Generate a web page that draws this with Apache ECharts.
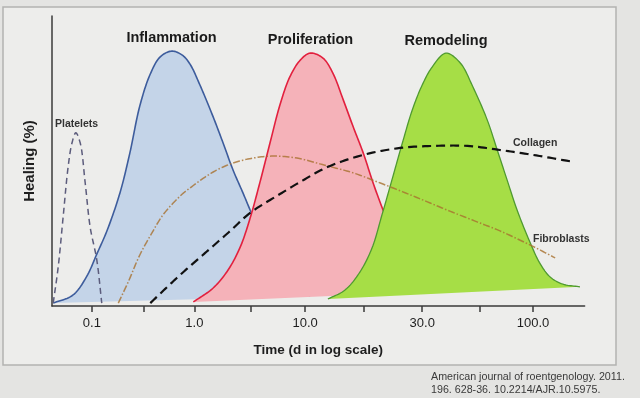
<!DOCTYPE html>
<html><head><meta charset="utf-8">
<script src="https://cdn.jsdelivr.net/npm/echarts@6/dist/echarts.min.js"></script>
<style>html,body{margin:0;padding:0;background:#e4e4e2;}#c{width:640px;height:398px;}</style>
</head><body><div id="c"></div>
<script>
// Illustrative time axis: x in "tick units" (tick 0 = 0.1 d); the axis is not a true log scale
const tickPositions = [0, 0.939, 1.859, 2.882, 3.867, 4.929, 5.990, 7.040, 8.0];
const tickLabelPositions = [0, 1.859, 3.867, 5.990, 8.0];
const tickLabels = ['0.1', '1.0', '10.0', '30.0', '100.0'];

const phaseNames = ['Inflammation', 'Proliferation', 'Remodeling'];
const curveNames = ['Platelets', 'Fibroblasts', 'Collagen'];

const inflammationX = [-0.70,-0.34,-0.09,0.09,0.28,0.51,0.69,0.87,1.06,1.24,1.45,1.64,1.78,1.96,2.20,2.38,2.56,2.74,2.87,3.14,3.41,3.69,3.96];
const inflammationY = [1.0,3.8,10.3,17.9,26.2,39.0,52.8,69.0,80.0,85.9,87.9,86.5,83.4,76.2,65.2,56.2,46.9,39.0,33.1,21.0,11.7,6.2,3.4];

const proliferationX = [1.84,2.20,2.47,2.69,2.87,3.05,3.23,3.41,3.59,3.78,3.96,4.19,4.37,4.56,4.74,4.92,5.10,5.28,5.50,5.77,6.04,6.41];
const proliferationY = [1.4,6.2,12.4,20.3,30.3,42.8,56.2,69.3,79.0,84.8,87.2,85.5,80.3,71.0,61.7,52.8,42.4,33.1,22.8,13.1,7.9,5.2];

const remodelingX = [4.28,4.59,4.86,5.08,5.26,5.44,5.63,5.81,5.99,6.17,6.42,6.68,6.91,7.17,7.35,7.53,7.71,7.95,8.13,8.31,8.53,8.85];
const remodelingY = [2.4,5.5,11.7,20.0,31.4,43.4,56.2,67.6,76.2,82.4,87.2,83.8,75.5,64.1,53.8,43.4,33.1,21.7,14.5,10.0,7.6,6.6];

const plateletsX = [-0.70,-0.61,-0.52,-0.43,-0.36,-0.29,-0.21,-0.12,-0.03,0.09,0.18];
const plateletsY = [1.0,13.4,30.7,47.9,56.2,59.7,56.2,42.4,27.2,15.9,1.0];

const fibroblastsX = [0.48,0.66,0.87,1.09,1.29,1.60,1.78,2.20,2.56,2.92,3.29,3.72,4.27,4.74,5.23,5.83,6.44,7.04,7.40,7.95,8.40];
const fibroblastsY = [1.0,8.3,17.6,25.2,31.4,37.9,40.7,46.2,49.3,51.0,51.7,51.0,48.3,45.9,42.4,37.9,33.1,28.6,25.9,21.0,16.6];

const collagenX = [1.06,1.33,1.60,1.91,2.20,2.51,2.87,3.41,3.78,4.27,4.92,5.59,6.19,6.81,7.40,8.00,8.73];
const collagenY = [1.0,5.9,10.7,15.9,20.7,25.9,32.1,38.6,42.8,47.9,52.1,54.5,55.2,55.2,53.8,52.1,49.7];

const FONT = "'Liberation Sans', Arial, sans-serif";

// centripetal Catmull-Rom through screen points (rendering only)
function spline(pts, seg) {
  const n = pts.length;
  const out = [];
  const d = (a, b) => Math.max(Math.sqrt(Math.hypot(b[0] - a[0], b[1] - a[1])), 1e-4);
  const lerp = (a, b, ta, tb, t) => [
    ((tb - t) * a[0] + (t - ta) * b[0]) / (tb - ta),
    ((tb - t) * a[1] + (t - ta) * b[1]) / (tb - ta)
  ];
  for (let i = 0; i < n - 1; i++) {
    const p1 = pts[i], p2 = pts[i + 1];
    const p0 = i > 0 ? pts[i - 1] : [2 * p1[0] - p2[0], 2 * p1[1] - p2[1]];
    const p3 = i + 2 < n ? pts[i + 2] : [2 * p2[0] - p1[0], 2 * p2[1] - p1[1]];
    const t0 = 0, t1 = t0 + d(p0, p1), t2 = t1 + d(p1, p2), t3 = t2 + d(p2, p3);
    for (let s = 0; s < seg; s++) {
      const t = t1 + (t2 - t1) * s / seg;
      const A1 = lerp(p0, p1, t0, t1, t), A2 = lerp(p1, p2, t1, t2, t), A3 = lerp(p2, p3, t2, t3, t);
      const B1 = lerp(A1, A2, t0, t2, t), B2 = lerp(A2, A3, t1, t3, t);
      out.push(lerp(B1, B2, t1, t2, t));
    }
  }
  out.push(pts[n - 1]);
  return out;
}

function curveSeries(name, xs, ys, opts) {
  return {
    type: 'custom', name: name, coordinateSystem: 'cartesian2d',
    data: xs.map((x, i) => [x, ys[i]]),
    silent: true,
    renderItem: function (params, api) {
      if (params.dataIndex !== 0) return null;
      const pts = xs.map((x, i) => api.coord([x, ys[i]]));
      const c = spline(pts, 12);
      const children = [];
      if (opts.fill) {
        children.push({ type: 'polygon', shape: { points: c }, style: { fill: opts.fill, stroke: null } });
      }
      children.push({ type: 'polyline', shape: { points: c },
        style: { fill: null, stroke: opts.stroke, lineWidth: opts.width, lineDash: opts.dash || null, opacity: opts.opacity || 1 } });
      return { type: 'group', children: children };
    }
  };
}

const chart = echarts.init(document.getElementById('c'), null, { renderer: 'canvas' });
const option = {
  animation: false,
  backgroundColor: 'transparent',
  grid: { left: 52, right: 55.4, top: 16, bottom: 92 },
  xAxis: {
    type: 'value', min: -0.722, max: 8.934,
    axisLine: { onZero: false, lineStyle: { color: '#3a3a3a', width: 1.5 } },
    axisTick: { customValues: tickPositions, length: 6, lineStyle: { color: '#3a3a3a', width: 1.5 } },
    axisLabel: {
      customValues: tickLabelPositions,
      formatter: function (v) {
        const i = tickLabelPositions.findIndex(p => Math.abs(p - v) < 1e-6);
        return i >= 0 ? tickLabels[i] : '';
      },
      color: '#1e1e1e', fontSize: 13, margin: 11, fontFamily: FONT
    },
    splitLine: { show: false },
    name: 'Time (d in log scale)', nameLocation: 'middle', nameGap: 37,
    nameTextStyle: { color: '#1e1e1e', fontSize: 13.5, fontWeight: 'bold', fontFamily: FONT }
  },
  yAxis: {
    type: 'value', min: 0, max: 100,
    axisLine: { show: true, onZero: false, lineStyle: { color: '#3a3a3a', width: 1.5 } },
    axisTick: { show: false }, axisLabel: { show: false }, splitLine: { show: false },
    name: 'Healing (%)', nameLocation: 'middle', nameGap: 15, nameRotate: 90,
    nameTextStyle: { color: '#1e1e1e', fontSize: 15, fontWeight: 'bold', fontFamily: FONT }
  },
  graphic: [
    { type: 'rect', z: -1, shape: { x: 3, y: 7, width: 613, height: 358 }, style: { fill: '#ededeb', stroke: '#b3b3b1', lineWidth: 1.5 } },
    { type: 'text', x: 171.5, y: 38, z: 10, style: { text: phaseNames[0], fontSize: 14.5, fontWeight: 'bold', fontFamily: FONT, fill: '#1a1a1a', align: 'center', verticalAlign: 'middle' } },
    { type: 'text', x: 310.5, y: 39.5, z: 10, style: { text: phaseNames[1], fontSize: 14.5, fontWeight: 'bold', fontFamily: FONT, fill: '#1a1a1a', align: 'center', verticalAlign: 'middle' } },
    { type: 'text', x: 446, y: 40.5, z: 10, style: { text: phaseNames[2], fontSize: 14.5, fontWeight: 'bold', fontFamily: FONT, fill: '#1a1a1a', align: 'center', verticalAlign: 'middle' } },
    { type: 'text', x: 55, y: 124, z: 10, style: { text: curveNames[0], fontSize: 10.5, fontWeight: 'bold', fontFamily: FONT, fill: '#333', align: 'left', verticalAlign: 'middle' } },
    { type: 'text', x: 533, y: 239, z: 10, style: { text: curveNames[1], fontSize: 10.5, fontWeight: 'bold', fontFamily: FONT, fill: '#333', align: 'left', verticalAlign: 'middle' } },
    { type: 'text', x: 513, y: 143, z: 10, style: { text: curveNames[2], fontSize: 10.5, fontWeight: 'bold', fontFamily: FONT, fill: '#333', align: 'left', verticalAlign: 'middle' } },
    { type: 'text', x: 431, y: 377, z: 10, style: { text: 'American journal of roentgenology. 2011.', fontSize: 10.7, fontFamily: FONT, fill: '#3a3a3a', align: 'left', verticalAlign: 'middle' } },
    { type: 'text', x: 431, y: 390, z: 10, style: { text: '196. 628-36. 10.2214/AJR.10.5975.', fontSize: 10.7, fontFamily: FONT, fill: '#3a3a3a', align: 'left', verticalAlign: 'middle' } }
  ],
  series: [
    curveSeries(phaseNames[0], inflammationX, inflammationY, { fill: '#c4d4e8', stroke: '#3d5c9c', width: 1.6 }),
    curveSeries(phaseNames[1], proliferationX, proliferationY, { fill: '#f5b2b9', stroke: '#e2203e', width: 1.6 }),
    curveSeries(phaseNames[2], remodelingX, remodelingY, { fill: '#a6de46', stroke: '#4f9a30', width: 1.3 }),
    curveSeries(curveNames[0], plateletsX, plateletsY, { stroke: '#5c5c7c', width: 1.5, dash: [6, 4] }),
    curveSeries(curveNames[1], fibroblastsX, fibroblastsY, { stroke: '#a8702e', width: 1.5, dash: [7, 2, 1.5, 2], opacity: 0.8 }),
    curveSeries(curveNames[2], collagenX, collagenY, { stroke: '#111111', width: 2.2, dash: [9, 5] })
  ]
};
chart.setOption(option);
</script>
</body></html>
